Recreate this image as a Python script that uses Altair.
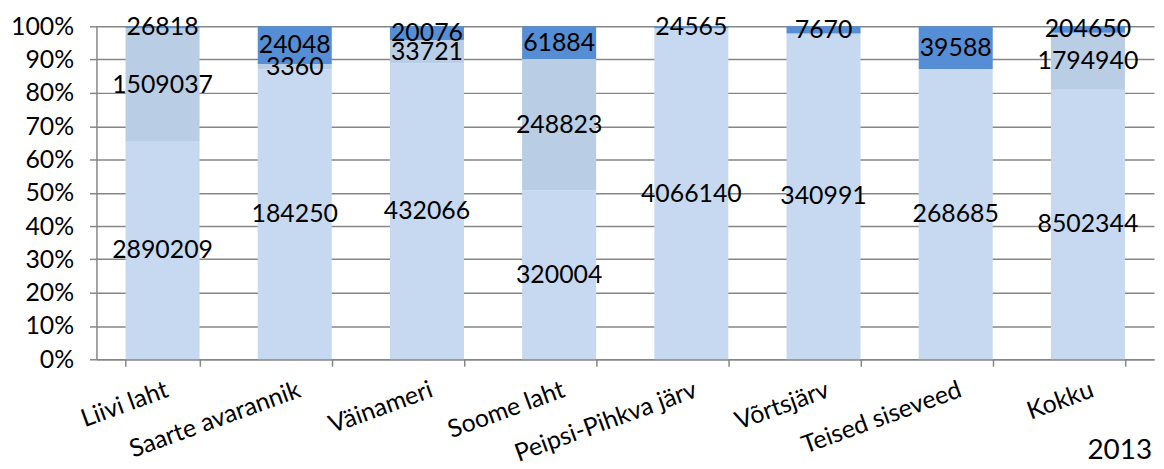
import altair as alt
import pandas as pd

categories = ["Liivi laht", "Saarte avarannik", "Väinameri", "Soome laht",
              "Peipsi-Pihkva järv", "Võrtsjärv", "Teised siseveed", "Kokku"]
series_names = ["s1", "s2", "s3"]
s1 = [2890209, 184250, 432066, 320004, 4066140, 340991, 268685, 8502344]
s2 = [1509037, 3360, 33721, 248823, None, None, None, 1794940]
s3 = [26818, 24048, 20076, 61884, 24565, 7670, 39588, 204650]
colors = ["#C6D9F1", "#B9CDE5", "#558ED5"]
year_label = "2013"
y_ticks = [0, 0.1, 0.2, 0.3, 0.4, 0.5, 0.6, 0.7, 0.8, 0.9, 1.0]

rows = []
for i, c in enumerate(categories):
    for k, vals in enumerate([s1, s2, s3]):
        v = vals[i]
        if v is not None:
            rows.append({"cat": c, "series": series_names[k], "ord": k, "value": v})
df = pd.DataFrame(rows)

FONT = "Lato"
base = alt.Chart(df).transform_stack(
    stack="value", groupby=["cat"], sort=[alt.SortField("ord", order="ascending")],
    offset="normalize", as_=["y0", "y1"]
).transform_calculate(mid="(datum.y0 + datum.y1) / 2")

x_axis = alt.Axis(labelAngle=340, labelAlign="right", labelBaseline="top",
                  labelFont=FONT, labelFontSize=25, labelColor="#000000",
                  labelPadding=11, labelLimit=400, tickBand="extent", tickSize=7,
                  tickColor="#868686", domainColor="#868686",
                  domainWidth=1.5, tickWidth=1.5, labelOverlap=False,
                  labelBound=False)
y_axis = alt.Axis(format="%", values=y_ticks, tickCount=11,
                  labelFont=FONT, labelFontSize=25, labelColor="#000000",
                  labelOverlap=False, labelBound=False,
                  grid=True, gridColor="#868686", gridWidth=1.5,
                  tickColor="#868686", tickSize=7, tickWidth=1.5,
                  domainColor="#868686", domainWidth=1.5, labelPadding=16)
x_scale = alt.Scale(paddingInner=0.44, paddingOuter=0.22)
y_scale = alt.Scale(domain=[0, 1])

bars = base.mark_bar().encode(
    x=alt.X("cat:N", sort=categories, title=None, scale=x_scale, axis=x_axis),
    y=alt.Y("y0:Q", title=None, scale=y_scale, axis=y_axis),
    y2="y1:Q",
    color=alt.Color("series:N", scale=alt.Scale(domain=series_names, range=colors), legend=None),
)

labels = base.mark_text(font=FONT, fontSize=25, color="#000000", baseline="middle").encode(
    x=alt.X("cat:N", sort=categories, title=None, scale=x_scale, axis=x_axis),
    y=alt.Y("mid:Q", title=None, scale=y_scale, axis=y_axis),
    text=alt.Text("value:Q", format="d"),
)

year = alt.Chart(pd.DataFrame({"t": [year_label]})).mark_text(
    font=FONT, fontSize=28, color="#000000", align="right", baseline="alphabetic"
).encode(x=alt.value(1062), y=alt.value(435), text="t:N")

chart = alt.layer(bars, labels, year).properties(
    width=1064, height=335,
    autosize=alt.AutoSizeParams(type="none"),
    padding={"left": 89, "top": 17, "right": 2, "bottom": 107},
).configure_view(stroke=None)

chart.save("out.html", embed_options={"renderer": "svg", "actions": False})
